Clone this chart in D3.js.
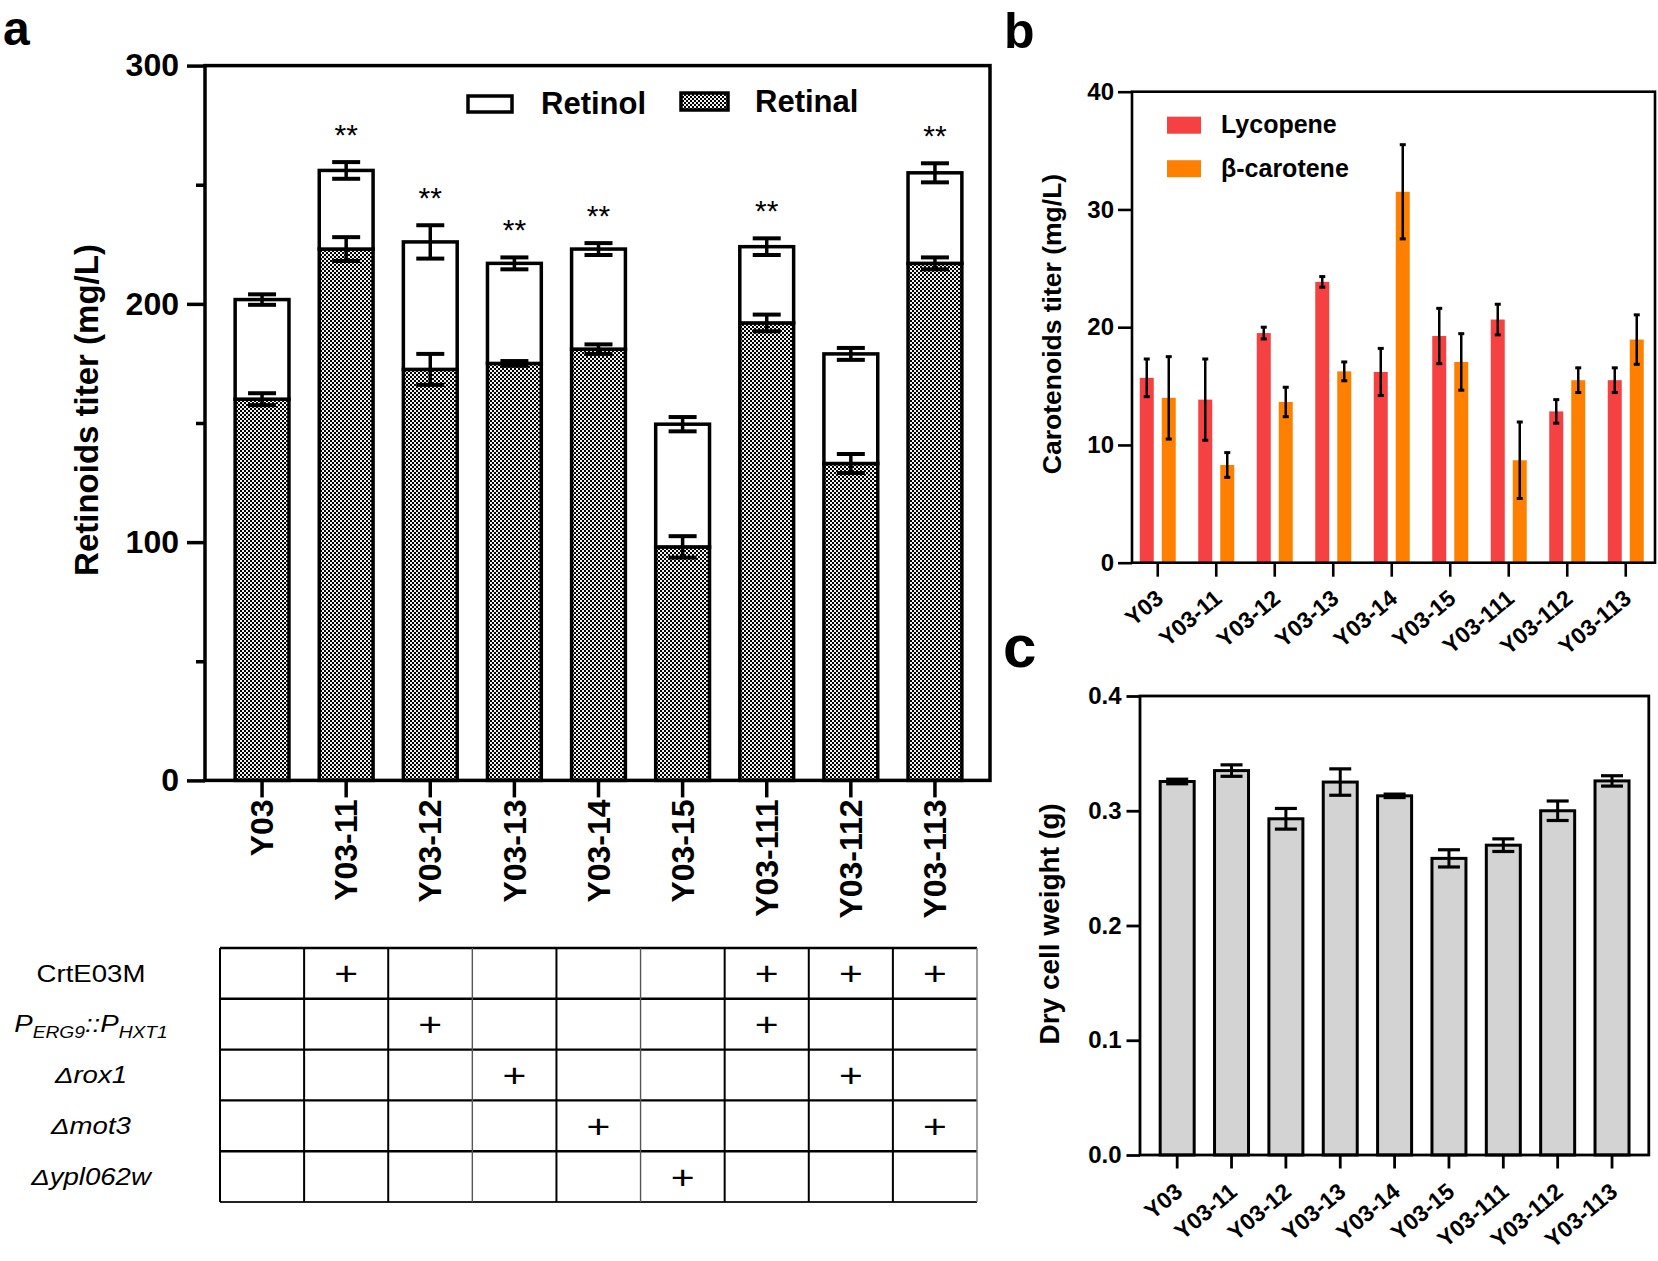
<!DOCTYPE html>
<html><head><meta charset="utf-8">
<script src="https://cdn.jsdelivr.net/npm/d3@7"></script>
<style>body{margin:0;background:#fff} svg{display:block} text{font-family:"Liberation Sans",Arial,Helvetica,sans-serif}</style>
</head><body>
<svg id="fig" width="1658" height="1261"></svg>
<script>
// ---------------- data ----------------
const strains = ["Y03","Y03-11","Y03-12","Y03-13","Y03-14","Y03-15","Y03-111","Y03-112","Y03-113"];
// panel a (mg/L)
const retinalMean = [160, 223, 172.5, 175, 181, 98, 192, 133, 217];
const retinalErr  = [2.5, 5, 6.5, 1, 2, 4.5, 3.5, 4, 2.5];
const retinolMean = [41.8, 33, 53.5, 42, 42, 51.5, 32, 46, 38];
const retinolErr  = [2.2, 3.5, 7, 2.5, 2.5, 3, 3.5, 2.5, 4];
const significance = ["", "**", "**", "**", "**", "", "**", "", "**"];
const yTicksA = [0, 100, 200, 300];
const yMinorA = [50, 150, 250];
// panel b (mg/L)
const lycopene     = [15.7, 13.85, 19.5, 23.85, 16.2, 19.25, 20.65, 12.85, 15.5];
const lycopeneErr  = [1.6, 3.45, 0.5, 0.45, 2.0, 2.35, 1.3, 1.0, 1.05];
const betaCarotene = [14.0, 8.3, 13.65, 16.25, 31.5, 17.05, 8.7, 15.5, 18.95];
const betaErr      = [3.5, 1.05, 1.25, 0.8, 4.0, 2.4, 3.25, 1.05, 2.1];
const yTicksB = [0, 10, 20, 30, 40];
// panel c (g)
const dryCellWeight = [0.3255, 0.335, 0.293, 0.325, 0.313, 0.2585, 0.27, 0.3, 0.326];
const dryCellErr    = [0.002, 0.005, 0.009, 0.0115, 0.0015, 0.0075, 0.0055, 0.0085, 0.0045];
const yTicksC = [0, 0.1, 0.2, 0.3, 0.4];
// modification table
const modRows = ["CrtE03M", "PERG9::PHXT1", "Δrox1", "Δmot3", "Δypl062w"];
const modCrtE   = [0,1,0,0,0,0,1,1,1];
const modPERG9  = [0,0,1,0,0,0,1,0,0];
const modRox1   = [0,0,0,1,0,0,0,1,0];
const modMot3   = [0,0,0,0,1,0,0,0,1];
const modYpl062 = [0,0,0,0,0,1,0,0,0];
const modMatrix = [modCrtE, modPERG9, modRox1, modMot3, modYpl062];

// ---------------- setup ----------------
const svg = d3.select("#fig");
const defs = svg.append("defs");
const pat = defs.append("pattern").attr("id","checker").attr("patternUnits","userSpaceOnUse")
  .attr("width",4).attr("height",4);
pat.append("rect").attr("width",4).attr("height",4).attr("fill","#000");
pat.append("rect").attr("x",0).attr("y",0).attr("width",2).attr("height",2).attr("fill","#f2f2f2");
pat.append("rect").attr("x",2).attr("y",2).attr("width",2).attr("height",2).attr("fill","#f2f2f2");

function styleAxis(g, sw, fs, bold){
  g.select(".domain").remove();
  g.selectAll(".tick line").attr("stroke","#000").attr("stroke-width",sw);
  g.selectAll(".tick text").attr("fill","#000").style("font-size",fs+"px")
    .style("font-weight",bold?"bold":"normal").style("font-family",'"Liberation Sans",Arial,sans-serif');
}
function errorBar(g, x, yLo, yHi, capW, sw, capSw){
  g.append("line").attr("x1",x).attr("x2",x).attr("y1",yLo).attr("y2",yHi).attr("stroke","#000").attr("stroke-width",sw);
  [yLo,yHi].forEach(y=>g.append("line").attr("x1",x-capW/2).attr("x2",x+capW/2).attr("y1",y).attr("y2",y)
    .attr("stroke","#000").attr("stroke-width",capSw));
}

// ---------------- panel a ----------------
const xA = d3.scaleBand().domain(strains).range([220, 977]);
const yA = d3.scaleLinear().domain([0,300]).range([780.4, 65.6]);
const bwA = xA.bandwidth()*0.64;
const gA = svg.append("g");
const stackData = strains.map((s,i)=>({strain:s, retinal:retinalMean[i], retinol:retinolMean[i]}));
const series = d3.stack().keys(["retinal","retinol"])(stackData);
series.forEach(ser=>{
  gA.append("g").selectAll("rect").data(ser).join("rect")
    .attr("x",d=>xA(d.data.strain)+xA.bandwidth()/2-bwA/2)
    .attr("width",bwA)
    .attr("y",d=>yA(d[1]))
    .attr("height",d=>yA(d[0])-yA(d[1]))
    .attr("fill", ser.key==="retinal" ? "url(#checker)" : "#fff")
    .attr("stroke","#000").attr("stroke-width",3.5);
});
const gErrA = gA.append("g");
strains.forEach((s,i)=>{
  const cx = xA(s)+xA.bandwidth()/2;
  errorBar(gErrA, cx, yA(retinalMean[i]-retinalErr[i]), yA(retinalMean[i]+retinalErr[i]), 28, 3.5, 4);
  const tot = retinalMean[i]+retinolMean[i];
  errorBar(gErrA, cx, yA(tot-retinolErr[i]), yA(tot+retinolErr[i]), 28, 3.5, 4);
  if (significance[i]) {
    gA.append("text").attr("x",cx).attr("y",yA(tot+retinolErr[i])-17).attr("text-anchor","middle")
      .style("font-size","30px").text(significance[i]);
  }
});
// frame
gA.append("rect").attr("x",205).attr("y",yA(300)).attr("width",990-205).attr("height",yA(0)-yA(300))
  .attr("fill","none").attr("stroke","#000").attr("stroke-width",3.5);
const axA = gA.append("g").attr("transform","translate(205,0)")
  .call(d3.axisLeft(yA).tickValues(yTicksA).tickSize(18).tickPadding(8).tickFormat(d3.format("d")));
styleAxis(axA, 3.5, 32, true);
const axAm = gA.append("g").attr("transform","translate(205,0)")
  .call(d3.axisLeft(yA).tickValues(yMinorA).tickSize(9).tickFormat(""));
styleAxis(axAm, 3.5, 32, true);
const axAx = gA.append("g").attr("transform",`translate(0,${yA(0)})`)
  .call(d3.axisBottom(xA).tickSize(17).tickSizeOuter(0));
styleAxis(axAx, 3.5, 32, true);
axAx.selectAll(".tick text").attr("transform","rotate(-90)").attr("text-anchor","end")
  .attr("x",-19).attr("y",0).attr("dy","0.35em");
// y title
gA.append("text").attr("transform","translate(98,410) rotate(-90)").attr("text-anchor","middle")
  .style("font-size","33px").style("font-weight","bold").text("Retinoids titer (mg/L)");
// legend
const legA = gA.append("g");
legA.append("rect").attr("x",468).attr("y",96).attr("width",44).attr("height",16).attr("fill","#fff")
  .attr("stroke","#000").attr("stroke-width",3.5);
legA.append("text").attr("x",541).attr("y",114).style("font-size","31px").style("font-weight","bold").text("Retinol");
legA.append("rect").attr("x",681).attr("y",93).attr("width",47).attr("height",17).attr("fill","url(#checker)")
  .attr("stroke","#000").attr("stroke-width",3.5);
legA.append("text").attr("x",755).attr("y",112).style("font-size","31px").style("font-weight","bold").text("Retinal");
svg.append("text").attr("x",3).attr("y",45).style("font-size","48px").style("font-weight","bold").text("a");

// ---------------- table ----------------
const gT = svg.append("g");
const rowY = d3.scaleBand().domain(modRows).range([948, 1202]);
const tX0 = xA.range()[0], tX1 = xA.range()[1];
rowY.domain().forEach(r=>{
  gT.append("line").attr("x1",tX0).attr("x2",tX1).attr("y1",rowY(r)).attr("y2",rowY(r)).attr("stroke","#000").attr("stroke-width",2.4);
});
gT.append("line").attr("x1",tX0).attr("x2",tX1).attr("y1",rowY.range()[1]).attr("y2",rowY.range()[1]).attr("stroke","#222").attr("stroke-width",1.8);
strains.forEach((s,i)=>{
  gT.append("line").attr("x1",xA(s)).attr("x2",xA(s)).attr("y1",rowY.range()[0]).attr("y2",rowY.range()[1])
    .attr("stroke", (i===5||i===3) ? "#555" : "#000").attr("stroke-width",(i===5||i===3) ? 1.4 : 2);
});
gT.append("line").attr("x1",tX1).attr("x2",tX1).attr("y1",rowY.range()[0]).attr("y2",rowY.range()[1]).attr("stroke","#777").attr("stroke-width",1.4);
modMatrix.forEach((row,ri)=>{
  const r = modRows[ri];
  row.forEach((v,ci)=>{
    if (v) gT.append("text")
      .attr("transform",`translate(${xA(strains[ci])+xA.bandwidth()/2},${rowY(r)+rowY.bandwidth()/2}) scale(1.2,1)`)
      .attr("dy","0.35em").attr("text-anchor","middle").style("font-size","34px").text("+");
  });
  const t = gT.append("text").attr("transform",`translate(91,${rowY(r)+rowY.bandwidth()/2}) scale(1.2,1)`)
    .attr("dy","0.36em").attr("text-anchor","middle").style("font-size","23px");
  if (ri===0) t.text(r);
  else if (ri===1) {
    t.style("font-style","italic");
    t.append("tspan").text("P");
    t.append("tspan").attr("dy","6").style("font-size","16px").text("ERG9");
    t.append("tspan").attr("dy","-6").text("::P");
    t.append("tspan").attr("dy","6").style("font-size","16px").text("HXT1");
  } else t.style("font-style","italic").text(r);
});

// ---------------- panel b ----------------
const xB = d3.scaleBand().domain(strains).range([1128.5, 1655]);
const xB2 = d3.scaleBand().domain(["Lycopene","β-carotene"]).range([-18,18]).paddingInner(0.3636);
const yB = d3.scaleLinear().domain([0,40]).range([562.7, 91.7]);
const colB = {"Lycopene":"#f54141","β-carotene":"#ff8000"};
const gB = svg.append("g");
const bData = [];
strains.forEach((s,i)=>{
  bData.push({s, k:"Lycopene", v:lycopene[i], e:lycopeneErr[i]});
  bData.push({s, k:"β-carotene", v:betaCarotene[i], e:betaErr[i]});
});
gB.append("g").selectAll("rect").data(bData).join("rect")
  .attr("x",d=>xB(d.s)+xB.bandwidth()/2+xB2(d.k)).attr("width",xB2.bandwidth())
  .attr("y",d=>yB(d.v)).attr("height",d=>yB(0)-yB(d.v)).attr("fill",d=>colB[d.k]);
const gErrB = gB.append("g");
bData.forEach(d=>{
  const cx = xB(d.s)+xB.bandwidth()/2+xB2(d.k)+xB2.bandwidth()/2;
  errorBar(gErrB, cx, yB(d.v-d.e), yB(d.v+d.e), 6, 2.5, 3);
});
gB.append("rect").attr("x",1132).attr("y",yB(40)).attr("width",1655-1132).attr("height",yB(0)-yB(40))
  .attr("fill","none").attr("stroke","#000").attr("stroke-width",2.6);
const axB = gB.append("g").attr("transform","translate(1132,0)")
  .call(d3.axisLeft(yB).tickValues(yTicksB).tickSize(14).tickPadding(4));
styleAxis(axB, 2.6, 24, true);
const axBx = gB.append("g").attr("transform",`translate(0,${yB(0)})`)
  .call(d3.axisBottom(xB).tickSize(14).tickSizeOuter(0).tickFormat(""));
styleAxis(axBx, 2.6, 22, true);
gB.append("g").selectAll("text").data(strains).join("text")
  .attr("transform",d=>`translate(${xB(d)+xB.bandwidth()/2+7},${yB(0)+38}) rotate(-40)`)
  .attr("text-anchor","end").style("font-size","23px").style("font-weight","bold").text(d=>d);
gB.append("text").attr("transform","translate(1061,324) rotate(-90)").attr("text-anchor","middle")
  .style("font-size","26.5px").style("font-weight","bold").text("Carotenoids titer (mg/L)");
xB2.domain().forEach((k,i)=>{
  gB.append("rect").attr("x",1167).attr("y",116.7+i*43.5).attr("width",34).attr("height",17).attr("fill",colB[k]);
  gB.append("text").attr("x",1221).attr("y",133+i*43.5).style("font-size","25px").style("font-weight","bold").text(k);
});
svg.append("text").attr("x",1004).attr("y",48).style("font-size","50px").style("font-weight","bold").text("b");

// ---------------- panel c ----------------
const xC = d3.scaleBand().domain(strains).range([1150, 1639.2]);
const yC = d3.scaleLinear().domain([0,0.4]).range([1155, 696]);
const bwC = 34;
const gC = svg.append("g");
gC.append("g").selectAll("rect").data(strains).join("rect")
  .attr("x",d=>xC(d)+xC.bandwidth()/2-bwC/2).attr("width",bwC)
  .attr("y",(d,i)=>yC(dryCellWeight[i])).attr("height",(d,i)=>yC(0)-yC(dryCellWeight[i]))
  .attr("fill","#d3d3d3").attr("stroke","#000").attr("stroke-width",3);
const gErrC = gC.append("g");
strains.forEach((s,i)=>{
  const cx = xC(s)+xC.bandwidth()/2;
  errorBar(gErrC, cx, yC(dryCellWeight[i]-dryCellErr[i]), yC(dryCellWeight[i]+dryCellErr[i]), 22, 3, 3.2);
});
gC.append("rect").attr("x",1140).attr("y",yC(0.4)).attr("width",1648.8-1140).attr("height",yC(0)-yC(0.4))
  .attr("fill","none").attr("stroke","#000").attr("stroke-width",2.8);
const axC = gC.append("g").attr("transform","translate(1140,0)")
  .call(d3.axisLeft(yC).tickValues(yTicksC).tickSize(13.5).tickPadding(5).tickFormat(d3.format(".1f")));
styleAxis(axC, 2.8, 24, true);
const axCx = gC.append("g").attr("transform",`translate(0,${yC(0)})`)
  .call(d3.axisBottom(xC).tickSize(13.5).tickSizeOuter(0).tickFormat(""));
styleAxis(axCx, 2.8, 22, true);
gC.append("g").selectAll("text").data(strains).join("text")
  .attr("transform",d=>`translate(${xC(d)+xC.bandwidth()/2+7},${yC(0)+39}) rotate(-40)`)
  .attr("text-anchor","end").style("font-size","23px").style("font-weight","bold").text(d=>d);
gC.append("text").attr("transform","translate(1059,924) rotate(-90)").attr("text-anchor","middle")
  .style("font-size","28px").style("font-weight","bold").text("Dry cell weight (g)");
svg.append("text").attr("x",1003).attr("y",667).style("font-size","60px").style("font-weight","bold").text("c");
</script>
</body></html>
